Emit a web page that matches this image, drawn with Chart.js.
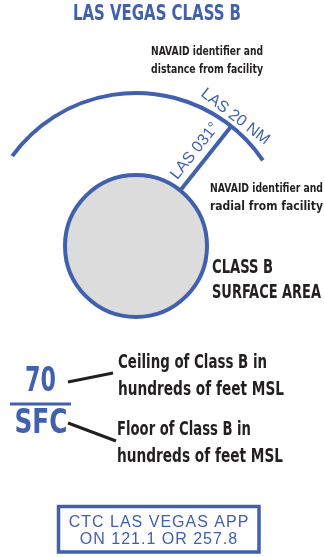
<!DOCTYPE html>
<html>
<head>
<meta charset="utf-8">
<script src="https://cdn.jsdelivr.net/npm/chart.js@4.4.1/dist/chart.umd.min.js"></script>
<style>
  html, body { margin: 0; padding: 0; background: #fff; }
  #wrap { width: 324px; height: 557px; }
</style>
</head>
<body>
<div id="wrap"><canvas id="legendChart"></canvas></div>
<script>
// ---- data ----
const chartTitle = ["LAS VEGAS CLASS B"];
const navaidId = ["LAS"];
const arcDistanceNm = [20];
const radialBearing = [31];
const ceilingFloor = ["70", "SFC"];
const distanceNote = ["NAVAID identifier and", "distance from facility"];
const radialNote = ["NAVAID identifier and", "radial from facility"];
const areaLabel = ["CLASS B", "SURFACE AREA"];
const ceilingNote = ["Ceiling of Class B in", "hundreds of feet MSL"];
const floorNote = ["Floor of Class B in", "hundreds of feet MSL"];
const facility = ["LAS VEGAS APP"];
const frequencies = ["121.1", "257.8"];

// ---- layout (chart units = px) ----
const BLUE = "#4160ad";
const INK = "#231f20";
const NARROW = "'Liberation Sans Narrow', 'DejaVu Sans Condensed', sans-serif";
const SANS = "'Liberation Sans', Arial, sans-serif";
const geo = { cx: 136, cy: 246, innerR: 71, outerR: 153, arcFrom: -54, arcTo: 56, drawBearing: 38.5 };

const rad = d => d * Math.PI / 180;

const diagram = {
  id: "diagram",
  afterDatasetsDraw(chart) {
    const { ctx, scales: { x, y } } = chart;
    const px = v => x.getPixelForValue(v);
    const py = v => y.getPixelForValue(v);
    const cx = px(geo.cx), cy = py(geo.cy);
    const R = px(geo.cx + geo.outerR) - cx;
    const r = px(geo.cx + geo.innerR) - cx;

    ctx.save();
    ctx.lineCap = "butt";

    // outer ring arc
    ctx.strokeStyle = BLUE;
    ctx.lineWidth = 4;
    ctx.beginPath();
    ctx.arc(cx, cy, R, rad(geo.arcFrom - 90), rad(geo.arcTo - 90));
    ctx.stroke();

    // radial line
    const b = rad(geo.drawBearing);
    const ux = Math.sin(b), uy = -Math.cos(b);
    ctx.beginPath();
    ctx.moveTo(cx + ux * (r + 1), cy + uy * (r + 1));
    ctx.lineTo(cx + ux * R, cy + uy * R);
    ctx.stroke();

    // distance label along arc
    ctx.fillStyle = BLUE;
    ctx.font = "16px " + SANS;
    ctx.textAlign = "center";
    ctx.textBaseline = "middle";
    const tb = rad(37.5);
    ctx.save();
    ctx.translate(cx + Math.sin(tb) * (R + 10), cy - Math.cos(tb) * (R + 10));
    ctx.rotate(tb);
    ctx.fillText(navaidId[0] + " " + arcDistanceNm[0] + " NM", 0, 0);
    ctx.restore();

    // radial label along line
    ctx.save();
    const d = 111, off = 13;
    ctx.translate(cx + ux * d - Math.cos(b) * off, cy + uy * d - Math.sin(b) * off);
    ctx.rotate(b - Math.PI / 2);
    ctx.fillText(navaidId[0] + " " + String(radialBearing[0]).padStart(3, "0") + "\u00B0", 0, 0);
    ctx.restore();

    // title
    ctx.font = "bold 22px " + NARROW;
    ctx.fillText(chartTitle[0], px(157), py(14), 168);

    // notes
    ctx.fillStyle = INK;
    ctx.textAlign = "left";
    ctx.font = "bold 13px " + NARROW;
    ctx.fillText(distanceNote[0], px(151), py(52), 112);
    ctx.fillText(distanceNote[1], px(151), py(70), 112);
    ctx.fillText(radialNote[0], px(210), py(189), 113);
    ctx.fillText(radialNote[1], px(210), py(207), 113);

    ctx.font = "bold 19px " + NARROW;
    ctx.fillText(areaLabel[0], px(212), py(268), 61);
    ctx.fillText(areaLabel[1], px(212), py(293), 109);

    ctx.fillText(ceilingNote[0], px(118), py(363), 149);
    ctx.fillText(ceilingNote[1], px(118), py(390), 166);
    ctx.fillText(floorNote[0], px(117), py(430), 134);
    ctx.fillText(floorNote[1], px(117), py(457), 166);

    // ceiling / floor
    ctx.fillStyle = BLUE;
    ctx.textAlign = "center";
    ctx.font = "bold 33px " + NARROW;
    ctx.fillText(ceilingFloor[0], px(40.5), py(382), 31);
    ctx.fillText(ceilingFloor[1], px(41), py(424), 53);
    ctx.lineWidth = 3;
    ctx.strokeStyle = BLUE;
    ctx.beginPath();
    ctx.moveTo(px(10), py(404));
    ctx.lineTo(px(71), py(404));
    ctx.stroke();

    // leaders
    ctx.strokeStyle = INK;
    ctx.lineWidth = 3;
    ctx.beginPath();
    ctx.moveTo(px(68), py(382));
    ctx.lineTo(px(113), py(373));
    ctx.moveTo(px(68), py(423));
    ctx.lineTo(px(116), py(441));
    ctx.stroke();

    // frequency box
    ctx.strokeStyle = BLUE;
    ctx.lineWidth = 3.5;
    ctx.strokeRect(px(58.5), py(506.5), px(259) - px(58.5), py(552) - py(506.5));
    ctx.font = "16px " + SANS;
    ctx.letterSpacing = "1px";
    ctx.fillText("CTC " + facility[0], px(159), py(523), 184);
    ctx.fillText("ON " + frequencies[0] + " OR " + frequencies[1], px(159), py(540), 184);
    ctx.letterSpacing = "0px";

    ctx.restore();
  }
};

new Chart(document.getElementById("legendChart"), {
  type: "bubble",
  data: {
    datasets: [{
      label: areaLabel.join(" "),
      data: [{ x: geo.cx, y: geo.cy, r: geo.innerR }],
      backgroundColor: "#dcdcdc",
      borderColor: BLUE,
      borderWidth: 4,
      hoverRadius: 0,
      clip: false
    }]
  },
  options: {
    responsive: true,
    maintainAspectRatio: false,
    animation: false,
    events: [],
    layout: { padding: 0, autoPadding: false },
    plugins: { legend: { display: false }, tooltip: { enabled: false } },
    scales: {
      x: { type: "linear", min: 0, max: 324, display: false },
      y: { type: "linear", min: 0, max: 557, reverse: true, display: false }
    }
  },
  plugins: [diagram]
});
</script>
</body>
</html>
